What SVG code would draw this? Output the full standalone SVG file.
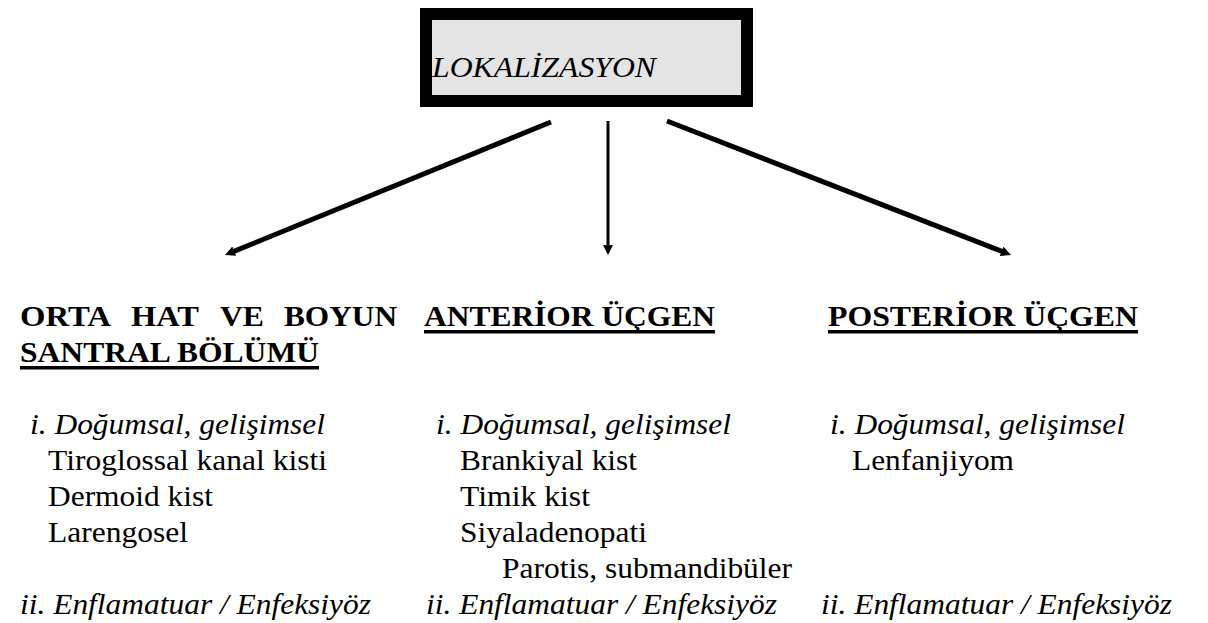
<svg xmlns="http://www.w3.org/2000/svg" width="1208" height="623" viewBox="0 0 1208 623">
<style>
text{font-family:'Liberation Serif','Times New Roman',serif;fill:#000}
.h{font-weight:bold;font-size:29px}
.b{font-size:29px}
.i{font-style:italic;font-size:29px}
.t{font-style:italic;font-size:30px}
.c{stroke:#000;fill:none;stroke-linecap:butt}
.u{fill:#000}
</style>
<defs>
<marker id="ah" viewBox="0 0 10 10" refX="1" refY="5" markerWidth="10" markerHeight="11" orient="auto" markerUnits="userSpaceOnUse">
<path d="M0,0 L10,5 L0,10 z" fill="#000"/>
</marker>
</defs>
<g id="node-lokalizasyon">
<rect x="426" y="14" width="321" height="87" fill="#e4e4e4" stroke="#000" stroke-width="12"/>
<text class="t" x="432" y="77" textLength="224" lengthAdjust="spacingAndGlyphs">LOKALİZASYON</text>
</g>
<g id="connectors">
<line class="c" x1="551" y1="122" x2="233.3" y2="251.6" stroke-width="5" marker-end="url(#ah)"/>
<line class="c" x1="608" y1="121" x2="608" y2="246" stroke-width="3" marker-end="url(#ah)"/>
<line class="c" x1="667" y1="121" x2="1002.6" y2="251.7" stroke-width="5" marker-end="url(#ah)"/>
</g>
<g id="node-orta-hat">
<text class="h" x="20" y="326" textLength="91" lengthAdjust="spacingAndGlyphs">ORTA</text>
<text class="h" x="131" y="326" textLength="68" lengthAdjust="spacingAndGlyphs">HAT</text>
<text class="h" x="220" y="326" textLength="44" lengthAdjust="spacingAndGlyphs">VE</text>
<text class="h" x="284" y="326" textLength="113" lengthAdjust="spacingAndGlyphs">BOYUN</text>
<text class="h" x="20" y="362" textLength="299" lengthAdjust="spacingAndGlyphs">SANTRAL BÖLÜMÜ</text>
<rect class="u" x="20" y="366" width="299" height="3.5"/>
<text class="i" x="30" y="434" textLength="295" lengthAdjust="spacingAndGlyphs">i. Doğumsal, gelişimsel</text>
<text class="b" x="48" y="470" textLength="279" lengthAdjust="spacingAndGlyphs">Tiroglossal kanal kisti</text>
<text class="b" x="48" y="506" textLength="165" lengthAdjust="spacingAndGlyphs">Dermoid kist</text>
<text class="b" x="48" y="542" textLength="140" lengthAdjust="spacingAndGlyphs">Larengosel</text>
<text class="i" x="20" y="614" textLength="351" lengthAdjust="spacingAndGlyphs">ii. Enflamatuar / Enfeksiyöz</text>
</g>
<g id="node-anterior">
<text class="h" x="424" y="326" textLength="291" lengthAdjust="spacingAndGlyphs">ANTERİOR ÜÇGEN</text>
<rect class="u" x="424" y="330" width="291" height="3.5"/>
<text class="i" x="436" y="434" textLength="295" lengthAdjust="spacingAndGlyphs">i. Doğumsal, gelişimsel</text>
<text class="b" x="460" y="470" textLength="177" lengthAdjust="spacingAndGlyphs">Brankiyal kist</text>
<text class="b" x="460" y="506" textLength="130" lengthAdjust="spacingAndGlyphs">Timik kist</text>
<text class="b" x="460" y="542" textLength="187" lengthAdjust="spacingAndGlyphs">Siyaladenopati</text>
<text class="b" x="502" y="578" textLength="290" lengthAdjust="spacingAndGlyphs">Parotis, submandibüler</text>
<text class="i" x="426" y="614" textLength="351" lengthAdjust="spacingAndGlyphs">ii. Enflamatuar / Enfeksiyöz</text>
</g>
<g id="node-posterior">
<text class="h" x="828" y="326" textLength="310" lengthAdjust="spacingAndGlyphs">POSTERİOR ÜÇGEN</text>
<rect class="u" x="828" y="330" width="310" height="3.5"/>
<text class="i" x="830" y="434" textLength="295" lengthAdjust="spacingAndGlyphs">i. Doğumsal, gelişimsel</text>
<text class="b" x="852" y="470" textLength="162" lengthAdjust="spacingAndGlyphs">Lenfanjiyom</text>
<text class="i" x="821" y="614" textLength="351" lengthAdjust="spacingAndGlyphs">ii. Enflamatuar / Enfeksiyöz</text>
</g>
</svg>
